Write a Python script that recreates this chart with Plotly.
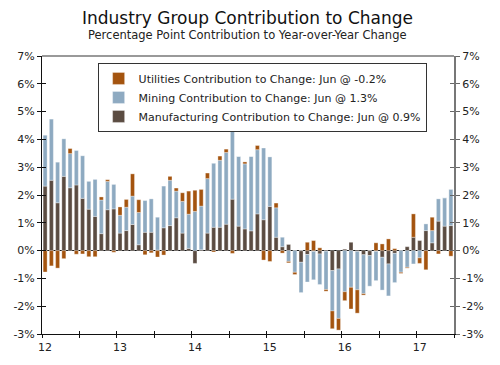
import plotly.graph_objects as go

# ---- data (Jan 2012 .. Jun 2017, monthly) ----
year_labels = ["12", "13", "14", "15", "16", "17"]
mfg = [
    2.32, 2.53, 1.72, 2.67, 2.26, 2.36, 1.88, 1.49, 1.23, 0.61, 1.47, 1.50,
    0.63, 0.72, 0.94, 0.21, 0.66, 0.66, 0.02, 0.82, 0.90, 1.18, 0.63, 0.08,
    -0.46, 0.03, 0.63, 0.84, 0.84, 0.95, 1.85, 0.88, 0.78, 0.71, 1.32, 1.11,
    1.59, 0.48, 0.14, 0.22, 0.00, -0.42, -0.14, -0.03, -0.12, -0.02, -0.72, -0.66,
    0.05, 0.30, -0.03, -0.15, -0.18, -0.03, -0.24, -0.48, -0.10, 0.00, 0.14, 0.48,
    0.36, 0.72, 0.28, 1.06, 0.88, 0.90,
]
mining = [
    1.83, 2.20, 1.46, 1.35, 1.23, 1.24, 1.53, 1.00, 1.33, 1.21, 1.02, 0.88,
    0.64, 0.84, 1.02, 1.16, 1.14, 1.20, 1.18, 1.50, 1.63, 0.96, 1.14, 1.23,
    1.41, 1.57, 1.96, 2.30, 2.41, 2.58, 2.46, 2.51, 2.34, 2.68, 2.31, 2.58,
    1.78, 1.06, 0.34, -0.39, -0.78, -1.09, -0.99, -1.02, -1.10, -1.38, -1.45, -1.78,
    -1.48, -1.32, -1.38, -1.40, -1.10, -1.05, -1.18, -1.15, -1.05, -0.78, -0.60, -0.48,
    -0.26, 0.24, 0.44, 0.80, 1.02, 1.30,
]
util = [
    -0.77, -0.55, -0.63, -0.29, 0.18, -0.13, -0.12, -0.22, -0.22, 0.11, 0.06, -0.06,
    0.30, 0.28, 0.80, 0.46, -0.15, -0.08, -0.23, -0.16, 0.14, 0.11, 0.31, 0.83,
    0.76, 0.60, 0.20, -0.05, 0.15, 0.12, -0.10, 0.00, 0.07, 0.00, 0.15, -0.34,
    -0.39, 0.17, -0.09, -0.05, -0.08, 0.00, 0.30, 0.36, 0.10, -0.06, -0.64, -0.42,
    -0.32, -0.78, -0.84, -0.05, 0.00, 0.28, 0.24, 0.42, 0.07, -0.04, -0.03, 0.84,
    -0.20, -0.69, 0.48, -0.12, 0.00, -0.20,
]
pct_ticks = [-3, -2, -1, 0, 1, 2, 3, 4, 5, 6, 7]

n = len(mfg)
x = list(range(n))
year_pos = list(range(0, n, 12))
halfyear_pos = [i - 0.5 for i in range(0, n + 1, 6)]
xr = [-0.5, n - 0.5]
yr = [-3, 7]

W, H = 500, 365
ML, MR, MT, MB = 42, 46, 56, 31

C_MFG = "#5b4c42"
C_MIN = "#8eaac1"
C_UTL = "#a4540f"
LINE = dict(color="rgba(255,255,255,0.55)", width=0.6)
FONT = "DejaVu Sans, Verdana, sans-serif"

fig = go.Figure()
fig.add_trace(go.Bar(x=x, y=mfg, marker=dict(color=C_MFG, line=LINE),
                     name=f"Manufacturing Contribution to Change: Jun @ {mfg[-1]:.1f}%"))
fig.add_trace(go.Bar(x=x, y=mining, marker=dict(color=C_MIN, line=LINE),
                     name=f"Mining Contribution to Change: Jun @ {mining[-1]:.1f}%"))
fig.add_trace(go.Bar(x=x, y=util, marker=dict(color=C_UTL, line=LINE),
                     name=f"Utilities Contribution to Change: Jun @ {util[-1]:.1f}%"))

ticktext = [f"{v}%" for v in pct_ticks]
pw = W - ML - MR

fig.update_layout(
    width=W, height=H,
    margin=dict(l=ML, r=MR, t=MT, b=MB),
    paper_bgcolor="white", plot_bgcolor="white",
    barmode="relative", bargap=0.36,
    font=dict(family=FONT, size=11, color="#222"),
    title=dict(
        text="Industry Group Contribution to Change",
        x=0.495, xanchor="center", xref="container",
        y=1 - 18 / H, yref="container", yanchor="middle",
        font=dict(family=FONT, size=17, color="#111"),
    ),
    annotations=[dict(
        text="Percentage Point Contribution to Year-over-Year Change",
        xref="paper", yref="paper", x=(0.495 * W - ML) / pw, y=1,
        xanchor="center", yanchor="bottom", yshift=12, showarrow=False,
        font=dict(family=FONT, size=11.5, color="#222"),
    )],
    showlegend=True,
    legend=dict(
        x=0.135, xanchor="left", y=0.975, yanchor="top",
        traceorder="reversed", bgcolor="white",
        bordercolor="#333", borderwidth=1,
        font=dict(family=FONT, size=11, color="#222"),
        tracegroupgap=0, itemwidth=30,
    ),
    xaxis=dict(
        range=xr, tickvals=year_pos, ticktext=year_labels, ticks="",
        showline=True, linecolor="#111", linewidth=1, showgrid=False,
        zeroline=False, tickfont=dict(size=11, color="#222"),
        ticklabelstandoff=3,
    ),
    xaxis2=dict(
        overlaying="x", matches="x", range=xr, side="bottom", tickvals=halfyear_pos,
        ticks="outside", ticklen=3, tickcolor="#111", showticklabels=False,
        showgrid=False, zeroline=False, showline=False,
    ),
    xaxis3=dict(
        overlaying="x", matches="x", range=xr, side="bottom", tickvals=halfyear_pos,
        ticks="inside", ticklen=3, tickcolor="#111", showticklabels=False,
        showgrid=False, zeroline=False, showline=False,
    ),
    yaxis=dict(
        range=yr, tickvals=pct_ticks, ticktext=ticktext, ticks="outside",
        ticklen=4, tickcolor="#111", showline=True, linecolor="#111",
        linewidth=1, showgrid=False, zeroline=True, zerolinecolor="#111",
        zerolinewidth=1.3, tickfont=dict(size=11, color="#222"),
    ),
    yaxis2=dict(
        overlaying="y", side="right", range=yr, tickvals=pct_ticks,
        ticktext=ticktext, ticks="outside", ticklen=4, tickcolor="#666",
        showline=True, linecolor="#777", linewidth=2, showgrid=False,
        zeroline=False, tickfont=dict(size=11, color="#222"),
    ),
    yaxis3=dict(
        overlaying="y", side="left", range=yr, tickvals=pct_ticks,
        ticks="inside", ticklen=4, tickcolor="#111", showticklabels=False,
        showline=False, showgrid=False, zeroline=False,
    ),
    yaxis4=dict(
        overlaying="y", side="right", range=yr, tickvals=pct_ticks,
        ticks="inside", ticklen=4, tickcolor="#666", showticklabels=False,
        showline=False, showgrid=False, zeroline=False,
    ),
    shapes=[dict(type="line", xref="paper", yref="paper", x0=0, x1=1, y0=1, y1=1,
                 line=dict(color="#777", width=1.5))],
)

# invisible helper traces so overlay axes get drawn
for xa, ya in [("x2", "y2"), ("x3", "y3"), ("x", "y4")]:
    fig.add_trace(go.Scatter(x=[None], y=[None], xaxis=xa, yaxis=ya,
                             showlegend=False, hoverinfo="skip"))

fig.write_html("out.html", config={"displayModeBar": False},
               post_script="document.body.style.margin='0';")
